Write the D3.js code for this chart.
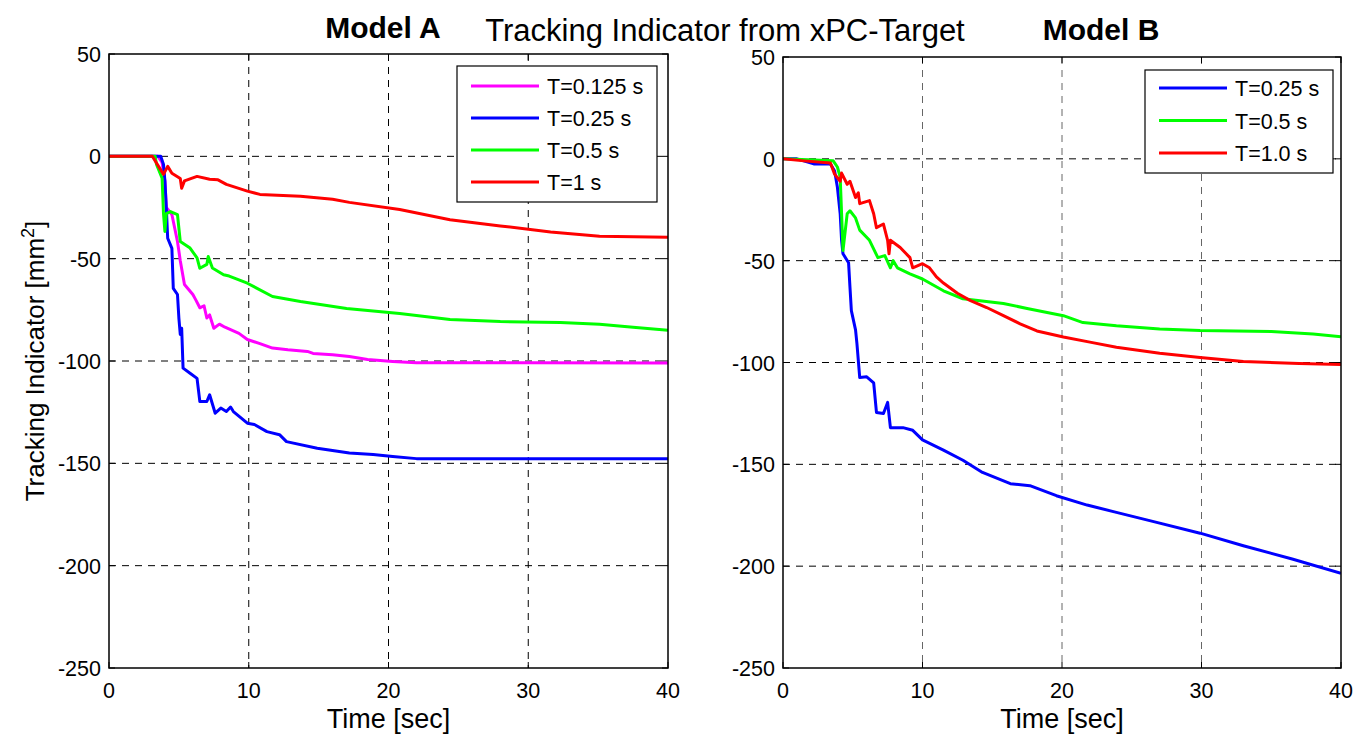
<!DOCTYPE html>
<html>
<head>
<meta charset="utf-8">
<script src="https://cdn.jsdelivr.net/npm/d3@7"></script>
<style>
	body { margin: 0; background: #fff; }
	text { font-family: "Liberation Sans", Arial, sans-serif; fill: #000; }
</style>
</head>
<body>
<svg id="chart" width="1357" height="736"></svg>
<script>
const xTicks = [0, 10, 20, 30, 40]
const yTicks = [50, 0, -50, -100, -150, -200, -250]

// Model A, [time, indicator]
const aT0125 = [[0,0],[3.5,0],[3.8,-3],[4.0,-12],[4.1,-25],[4.5,-28.4],[4.9,-41.6],[5.1,-51],[5.4,-62.6],[6.0,-67.5],[6.2,-70],[6.5,-74],[6.8,-73],[7.0,-79],[7.2,-77.5],[7.5,-84],[7.9,-82],[8.3,-83.5],[8.7,-84.7],[9.3,-86.5],[9.9,-89.5],[10.8,-91.5],[11.7,-93.7],[12.8,-94.5],[14.2,-95.3],[14.6,-96.3],[16,-96.9],[17.2,-97.8],[18.5,-99.3],[20.3,-100.2],[22,-100.8],[30,-100.8],[40,-101]]
const aT025 = [[0,0],[3.7,0],[3.9,-4],[4.0,-12],[4.1,-25],[4.2,-40],[4.5,-45],[4.6,-64.5],[4.9,-67.5],[5.0,-79],[5.1,-87],[5.2,-84],[5.3,-103.5],[5.8,-106],[6.3,-108.5],[6.5,-119.8],[7.0,-119.8],[7.2,-116.5],[7.6,-125.5],[8.0,-123],[8.4,-124.7],[8.7,-122.5],[8.9,-124.7],[9.9,-130.4],[10.4,-131],[11.3,-134.5],[12.2,-136],[12.7,-139.4],[14.9,-142.6],[17.2,-145],[18.9,-145.7],[20.3,-146.7],[22,-147.7],[30,-147.7],[40,-147.7]]
const aT05 = [[0,0],[3.3,0],[3.4,-4],[3.8,-10.7],[3.9,-28],[4.0,-36.7],[4.1,-28],[4.4,-27],[4.9,-28.5],[5.1,-41.6],[5.8,-44.8],[6.3,-49.6],[6.5,-54.7],[7.0,-52.8],[7.1,-48.9],[7.4,-54.6],[8.2,-57.9],[8.6,-58.5],[9.9,-62],[11.7,-68.5],[13.7,-70.9],[17,-74.3],[20.8,-76.8],[24.4,-79.7],[28,-80.7],[32.3,-81.2],[35.1,-82],[37.5,-83.5],[40,-85]]
const aT1 = [[0,0],[3.1,0],[3.9,-8.8],[4.2,-4.9],[4.5,-8.3],[5.1,-10.8],[5.2,-15.6],[5.4,-12],[6.3,-9.8],[7.2,-11.2],[7.8,-11.5],[8.4,-13.7],[9.9,-17],[10.8,-18.6],[13.7,-19.5],[16,-21],[17.2,-22.5],[20.8,-26],[24.4,-31],[28,-34],[31.6,-37],[35.1,-39],[40,-39.5]]

// Model B
const bT025 = [[0,0],[1.0,0],[2.2,-2.5],[3.4,-2.5],[3.7,-6],[3.9,-14],[4.1,-27],[4.2,-40],[4.3,-46.6],[4.7,-51],[4.8,-63],[4.9,-74.5],[5.2,-84],[5.3,-90.7],[5.5,-107.4],[6.0,-107],[6.5,-110],[6.7,-124.5],[7.2,-125],[7.5,-119.6],[7.7,-132],[8.6,-132],[9.3,-133.3],[10,-138],[11.5,-143],[12.9,-148],[14.3,-154],[16.3,-159.5],[17.7,-160.5],[19.6,-165.4],[21.8,-170],[23.9,-173.6],[26.5,-178],[29.9,-183.8],[33,-190],[36.5,-196.5],[40,-203.5]]
const bT05 = [[0,0],[3.6,-1],[3.9,-4],[4.1,-9],[4.2,-27],[4.3,-45],[4.6,-27],[4.8,-25.5],[5.2,-29],[5.5,-35],[6.2,-40],[6.8,-48.5],[7.3,-47.5],[7.7,-53.5],[7.9,-50],[8.2,-53.5],[9.1,-56.5],[10,-59],[11.5,-64.8],[12.9,-68.7],[15.8,-71],[17.5,-73.5],[20.1,-77],[21.5,-80.4],[23.9,-82],[27,-83.5],[29.9,-84.3],[35,-84.8],[38,-86],[40,-87.3]]
const bT1 = [[0,0],[1.5,-1],[3.4,-2],[3.7,-7.5],[4.1,-11],[4.2,-7],[4.6,-12.5],[4.8,-11],[5.2,-19],[5.4,-16.7],[5.5,-22],[6.2,-20.5],[6.5,-27],[6.7,-33.8],[7.2,-32],[7.5,-40],[7.6,-46.6],[7.7,-40],[8.4,-43.5],[9.1,-48.5],[9.3,-53.5],[10,-51.5],[10.5,-53.5],[11,-58],[11.5,-61],[12.5,-66],[13.4,-69.5],[14.6,-73],[15.8,-77],[17,-81],[18.2,-84.5],[20.1,-87.5],[22,-90],[23.9,-92.5],[27,-95.5],[29.9,-97.5],[33,-99.5],[37,-100.5],[40,-101]]

const panels = [
	{
		title: 'Model A', titleX: 383, titleY: 38,
		left: 109, right: 668, top: 54, bottom: 668, vGridColor: '#000',
		yLabel: true,
		series: [
			{ label: 'T=0.125 s', color: '#ff00ff', data: aT0125 },
			{ label: 'T=0.25 s', color: '#0000ff', data: aT025 },
			{ label: 'T=0.5 s', color: '#00ff00', data: aT05 },
			{ label: 'T=1 s', color: '#ff0000', data: aT1 },
		],
		legend: { x: 457, y: 66, width: 200, height: 136, first: 86, step: 32 },
	},
	{
		title: 'Model B', titleX: 1101, titleY: 40,
		left: 783, right: 1341, top: 57, bottom: 668, vGridColor: '#666',
		yLabel: false,
		series: [
			{ label: 'T=0.25 s', color: '#0000ff', data: bT025 },
			{ label: 'T=0.5 s', color: '#00ff00', data: bT05 },
			{ label: 'T=1.0 s', color: '#ff0000', data: bT1 },
		],
		legend: { x: 1145, y: 70, width: 188, height: 103, first: 88, step: 32.5 },
	},
]

const svg = d3.select('#chart')

svg.append('text')
	.attr('x', 725).attr('y', 41)
	.attr('text-anchor', 'middle')
	.attr('font-size', 31)
	.text('Tracking Indicator from xPC-Target')

panels.forEach(p => {
	const x = d3.scaleLinear().domain([0, 40]).range([p.left, p.right])
	const y = d3.scaleLinear().domain([-250, 50]).range([p.bottom, p.top])
	const g = svg.append('g')

	// grid
	g.selectAll('.vgrid').data(xTicks.slice(1, -1)).join('line')
		.attr('x1', d => x(d)).attr('x2', d => x(d))
		.attr('y1', p.top).attr('y2', p.bottom)
		.attr('stroke', p.vGridColor).attr('stroke-width', 1)
		.attr('stroke-dasharray', '7,6')
	g.selectAll('.hgrid').data(yTicks.slice(1, -1)).join('line')
		.attr('x1', p.left).attr('x2', p.right)
		.attr('y1', d => y(d)).attr('y2', d => y(d))
		.attr('stroke', '#000').attr('stroke-width', 1)
		.attr('stroke-dasharray', '7,6')

	// inward ticks on all sides
	const tk = 6
	xTicks.forEach(t => {
		g.append('line').attr('x1', x(t)).attr('x2', x(t)).attr('y1', p.bottom).attr('y2', p.bottom - tk).attr('stroke', '#000')
		g.append('line').attr('x1', x(t)).attr('x2', x(t)).attr('y1', p.top).attr('y2', p.top + tk).attr('stroke', '#000')
	})
	yTicks.forEach(t => {
		g.append('line').attr('x1', p.left).attr('x2', p.left + tk).attr('y1', y(t)).attr('y2', y(t)).attr('stroke', '#000')
		g.append('line').attr('x1', p.right).attr('x2', p.right - tk).attr('y1', y(t)).attr('y2', y(t)).attr('stroke', '#000')
	})

	// tick labels
	g.selectAll('.xl').data(xTicks).join('text')
		.attr('x', d => x(d)).attr('y', p.bottom + 30)
		.attr('text-anchor', 'middle').attr('font-size', 21.5)
		.text(d => d)
	g.selectAll('.yl').data(yTicks).join('text')
		.attr('x', p.left - 8).attr('y', d => y(d) + 8)
		.attr('text-anchor', 'end').attr('font-size', 21.5)
		.text(d => d)

	// lines
	const line = d3.line().x(d => x(d[0])).y(d => y(d[1]))
	const clipId = 'clip' + p.left
	svg.append('clipPath').attr('id', clipId)
		.append('rect').attr('x', p.left).attr('y', p.top)
		.attr('width', p.right - p.left).attr('height', p.bottom - p.top)
	g.append('g').attr('clip-path', `url(#${clipId})`)
		.selectAll('path').data(p.series).join('path')
		.attr('d', d => line(d.data))
		.attr('fill', 'none')
		.attr('stroke', d => d.color)
		.attr('stroke-width', 3)
		.attr('stroke-linejoin', 'round')

	// frame
	g.append('rect')
		.attr('x', p.left).attr('y', p.top)
		.attr('width', p.right - p.left).attr('height', p.bottom - p.top)
		.attr('fill', 'none').attr('stroke', '#000').attr('stroke-width', 1.5)

	// legend
	const L = p.legend
	const lg = g.append('g')
	lg.append('rect')
		.attr('x', L.x).attr('y', L.y).attr('width', L.width).attr('height', L.height)
		.attr('fill', '#fff').attr('stroke', '#000').attr('stroke-width', 1.2)
	p.series.forEach((s, i) => {
		const cy = L.first + i * L.step
		lg.append('line')
			.attr('x1', L.x + 14).attr('x2', L.x + 82)
			.attr('y1', cy).attr('y2', cy)
			.attr('stroke', s.color).attr('stroke-width', 3)
		lg.append('text')
			.attr('x', L.x + 90).attr('y', cy + 8)
			.attr('font-size', 21.5)
			.text(s.label)
	})

	// titles
	g.append('text')
		.attr('x', p.titleX).attr('y', p.titleY)
		.attr('text-anchor', 'middle')
		.attr('font-size', 30).attr('font-weight', 'bold')
		.text(p.title)
	g.append('text')
		.attr('x', (p.left + p.right) / 2).attr('y', p.bottom + 60)
		.attr('text-anchor', 'middle').attr('font-size', 27)
		.text('Time [sec]')

	if (p.yLabel) {
		const yl = g.append('text')
			.attr('transform', `translate(44,${(p.top + p.bottom) / 2}) rotate(-90)`)
			.attr('text-anchor', 'middle')
			.attr('font-size', 26)
		yl.append('tspan').text('Tracking Indicator [mm')
		yl.append('tspan').attr('font-size', 18).attr('dy', -10).text('2')
		yl.append('tspan').attr('dy', 10).text(']')
	}
})
</script>
</body>
</html>
